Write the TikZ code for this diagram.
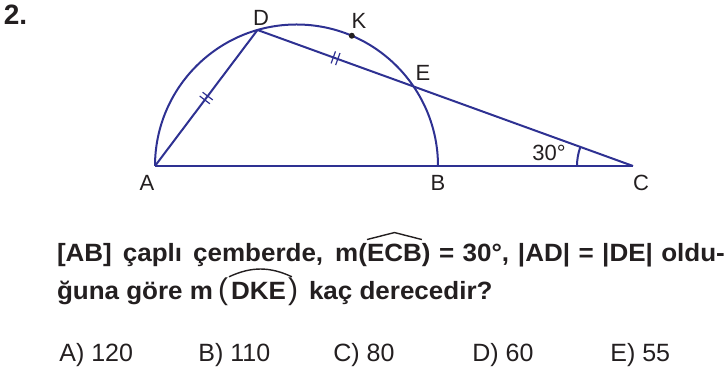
\documentclass[tikz,border=0pt]{standalone}
\usepackage{fontspec}
\setmainfont{Liberation Sans}
\newfontfamily\qfont[FakeStretch=1.04]{Liberation Sans Bold}
\usepackage{xcolor}
\usepackage{tikz}
\usetikzlibrary{calc,positioning,decorations.markings}
\definecolor{figblue}{HTML}{2E3192}
\definecolor{txtgray}{HTML}{231F20}
\tikzset{
  fig/.style={figblue, line width=1pt},
  lbl/.style={txtgray, font=\fontsize{11}{13}\selectfont, inner sep=0pt},
  qtxt/.style={txtgray, font=\qfont\fontsize{12.5}{15}\selectfont, inner sep=0pt, outer sep=0pt, anchor=base west},
  ans/.style={txtgray, font=\fontsize{12.5}{15}\selectfont, inner sep=0pt, anchor=base west},
  eqmark/.style={decoration={markings, mark=at position 0.5 with {\draw[figblue, line width=0.6pt] (-1.2pt,-3.2pt) -- (-1.2pt,3.2pt) (1.2pt,-3.2pt) -- (1.2pt,3.2pt);}}, postaction={decorate}}
}

\begin{document}
\begin{tikzpicture}[x=0.5pt,y=0.5pt]
\useasboundingbox (0,0) rectangle (727,374);
% figure
\coordinate (A) at (155,208);
\coordinate (B) at (438,208);
\coordinate (C) at (633,208);
\coordinate (O) at (296.5,208);
\coordinate (D) at ($(O)+(106:141.5)$);
\coordinate (E) at (413.6,287.5);
\coordinate (K) at ($(O)+(67:141.5)$);
\draw[fig] (B) arc[start angle=0, end angle=180, radius=141.5];
\draw[fig] (A) -- (C);
\draw[fig, eqmark] (A) -- (D);
\draw[fig, eqmark] (D) -- (E);
\draw[fig] (E) -- (C);
\draw[fig] ($(C)+(180:56)$) arc[start angle=180, end angle=160.1, radius=56];
\fill[txtgray] (K) circle (3);
% labels
\node[lbl] (labA) at (147,191) {A};
\node[lbl] (labB) at (438,191) {B};
\node[lbl] (labC) at (641,191) {C};
\node[lbl] (labD) at (261,356) {D};
\node[lbl] (labK) at (359,353) {K};
\node[lbl] (labE) at (423,301) {E};
\node[lbl] (ang) at (549,221) {30°};
\node[txtgray, font=\bfseries\fontsize{14}{16}\selectfont, inner sep=0pt] (num) at (15.5,359) {2.};
% question
\node[qtxt] (l1a) at (57,112) {\makebox[155pt][s]{[AB] çaplı çemberde, m(}};
\node[qtxt] (ecb) at (l1a.base east) {ECB};
\node[qtxt] (l1c) at (ecb.base east) {\makebox[151.5pt][s]{) = 30°, |AD| = |DE| oldu-}};
\draw[txtgray, line width=0.7pt] ([yshift=2.5pt]ecb.north west) -- ([yshift=6pt]ecb.north) -- ([yshift=2.5pt]ecb.north east);
\node[qtxt] (l2a) at (57,74) {ğuna göre m};
\node[qtxt, font=\fontsize{15}{15}\selectfont] (lpar) at (218,74) {(};
\node[qtxt] (dke) at (231,74) {DKE};
\node[qtxt, font=\fontsize{15}{15}\selectfont] (rpar) at (288,74) {)};
\node[qtxt] (l2b) at (309,74) {kaç derecedir?};
\draw[txtgray, line width=0.7pt] ([shift={(-1pt,3pt)}]dke.north west) to[bend left=25] ([shift={(3pt,3pt)}]dke.north east);
% answers
\foreach \opt/\val/\xx in {A/120/59, B/110/198, C/80/333, D/60/472, E/55/610}
  \node[ans] (ans\opt) at (\xx,12) {\opt) \val};
\end{tikzpicture}
\end{document}
